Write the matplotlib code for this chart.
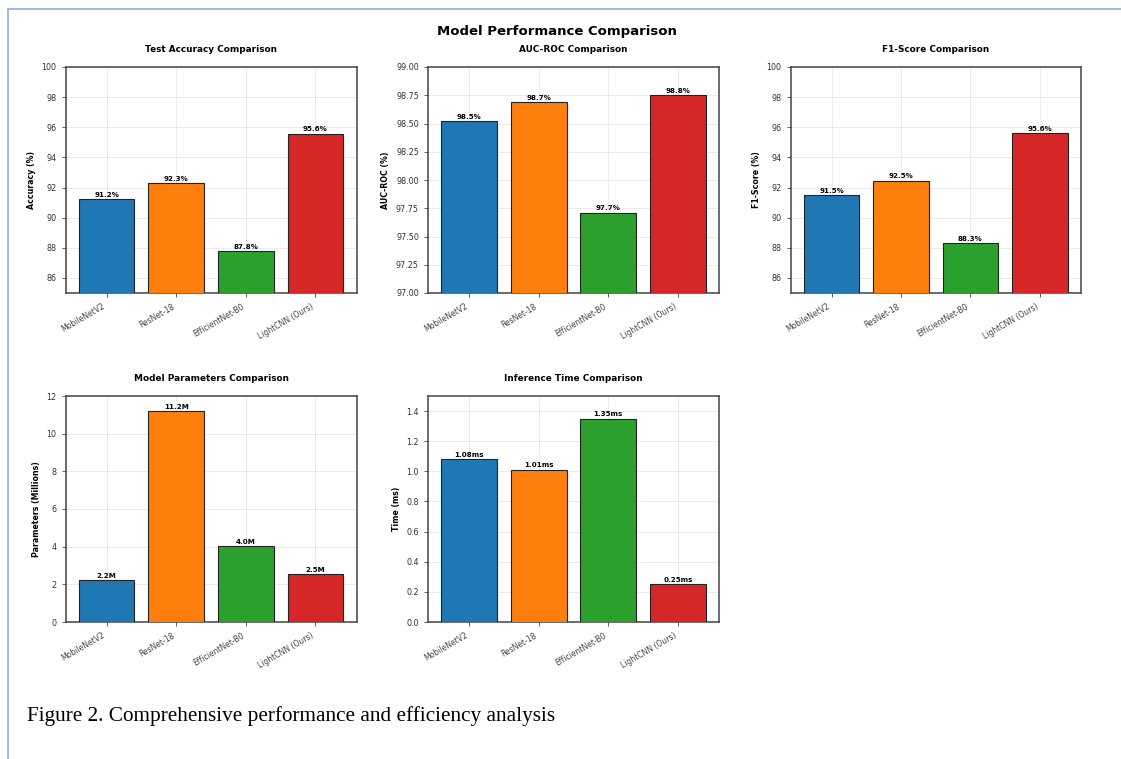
import matplotlib
matplotlib.use("Agg")
import matplotlib.pyplot as plt
from matplotlib.lines import Line2D

models = ["MobileNetV2", "ResNet-18", "EfficientNet-B0", "LightCNN (Ours)"]
accuracy = [91.22, 92.28, 87.79, 95.57]
auc_roc = [98.52, 98.69, 97.71, 98.75]
f1_score = [91.48, 92.46, 88.30, 95.62]
params_m = [2.23, 11.18, 4.01, 2.54]
infer_ms = [1.08, 1.01, 1.35, 0.25]

colors = ["#1f77b4", "#ff7f0e", "#2ca02c", "#d62728"]

W, H = 1121, 759
fig = plt.figure(figsize=(W / 100, H / 100), dpi=100)
fig.patch.set_facecolor("white")


def box(left, top, right, bottom):
    return [left / W, (H - bottom) / H, (right - left) / W, (bottom - top) / H]


panels = [
    dict(pos=box(65.5, 67, 356.5, 293), vals=accuracy, title="Test Accuracy Comparison",
         ylabel="Accuracy (%)", ylim=(85, 100), fmt="%.1f%%", ticks=list(range(86, 101, 2))),
    dict(pos=box(428, 67, 719, 293), vals=auc_roc, title="AUC-ROC Comparison",
         ylabel="AUC-ROC (%)", ylim=(97, 99), fmt="%.1f%%",
         ticks=[97.0, 97.25, 97.5, 97.75, 98.0, 98.25, 98.5, 98.75, 99.0]),
    dict(pos=box(790.5, 67, 1081, 293), vals=f1_score, title="F1-Score Comparison",
         ylabel="F1-Score (%)", ylim=(85, 100), fmt="%.1f%%", ticks=list(range(86, 101, 2))),
    dict(pos=box(65.5, 396, 356.5, 622), vals=params_m, title="Model Parameters Comparison",
         ylabel="Parameters (Millions)", ylim=(0, 12), fmt="%.1fM", ticks=list(range(0, 13, 2))),
    dict(pos=box(428, 396, 719, 622), vals=infer_ms, title="Inference Time Comparison",
         ylabel="Time (ms)", ylim=(0, 1.5), fmt="%.2fms",
         ticks=[0.0, 0.2, 0.4, 0.6, 0.8, 1.0, 1.2, 1.4]),
]

for p in panels:
    ax = fig.add_axes(p["pos"])
    x = list(range(len(models)))
    bars = ax.bar(x, p["vals"], width=0.8, color=colors, edgecolor="#222222",
                  linewidth=0.8, zorder=3)
    ax.set_ylim(*p["ylim"])
    ax.set_yticks(p["ticks"])
    if p["ylim"] == (97, 99):
        ax.set_yticklabels(["%.2f" % t for t in p["ticks"]])
    ax.set_xticks(x)
    ax.set_xticklabels(models, rotation=30, ha="right", fontsize=5.5, color="#444444")
    ax.tick_params(axis="y", labelsize=5.8, labelcolor="#333333", length=3, width=0.6,
                   color="#444444")
    ax.tick_params(axis="x", length=3, width=0.6, color="#444444")
    ax.set_title(p["title"], fontsize=6.4, fontweight="bold", pad=10.5)
    ax.set_ylabel(p["ylabel"], fontsize=5.7, fontweight="bold", labelpad=4)
    ax.grid(True, color="#d8d8d8", alpha=0.6, linewidth=0.6, zorder=0)
    ax.set_axisbelow(True)
    for s in ax.spines.values():
        s.set_color("#444444")
        s.set_linewidth(1.1)
    ax.bar_label(bars, fmt=p["fmt"], fontsize=5.1, fontweight="bold", padding=1)

fig.text(557 / W, (H - 34.5) / H, "Model Performance Comparison", ha="center",
         va="baseline", fontsize=9.5, fontweight="bold")

fig.text(27 / W, (H - 721) / H, "Figure 2. Comprehensive performance and efficiency analysis",
         ha="left", va="baseline", fontsize=15.3, family=["Liberation Serif", "DejaVu Serif"])

border = "#90b8df"
fig.add_artist(Line2D([7.5 / W, 7.5 / W], [0, (H - 8.5) / H], color=border, linewidth=1.3,
                      transform=fig.transFigure))
fig.add_artist(Line2D([7.5 / W, 1.0], [(H - 8.5) / H, (H - 8.5) / H], color=border,
                      linewidth=1.3, transform=fig.transFigure))

fig.savefig("out.png", dpi=100)
